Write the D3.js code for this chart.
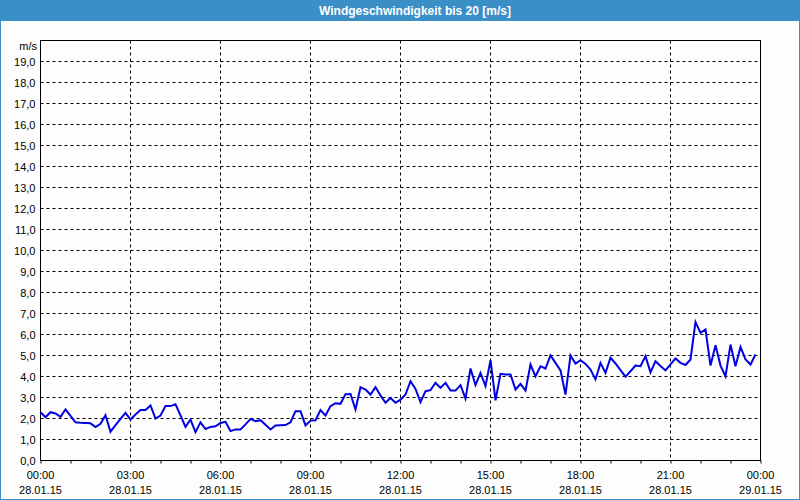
<!DOCTYPE html>
<html>
<head>
<meta charset="utf-8">
<script src="https://cdn.jsdelivr.net/npm/d3@7"></script>
<style>
html,body{margin:0;padding:0;background:#fff;}
svg{display:block;}
text{font-family:"Liberation Sans",Arial,sans-serif;}
</style>
</head>
<body>
<svg id="chart" width="800" height="500"></svg>
<script>
// ---- data ----
const title = "Windgeschwindigkeit bis 20 [m/s]";
const unitLabel = "m/s";
// wind speed, one sample every 10 minutes starting 28.01.15 00:00
const speeds = [
  2.3, 2.06, 2.3, 2.24, 2.08, 2.43, 2.12, 1.82, 1.8, 1.79, 1.77, 1.59,
  1.75, 2.16, 1.37, 1.68, 1.98, 2.27, 1.95, 2.19, 2.4, 2.4, 2.62, 2.0,
  2.14, 2.59, 2.59, 2.68, 2.15, 1.6, 1.95, 1.35, 1.82, 1.5, 1.6, 1.63,
  1.79, 1.84, 1.4, 1.48, 1.48, 1.72, 1.98, 1.87, 1.92, 1.7, 1.48, 1.67,
  1.68, 1.69, 1.82, 2.35, 2.35, 1.67, 1.9, 1.92, 2.4, 2.14, 2.59, 2.73,
  2.7, 3.16, 3.17, 2.43, 3.49, 3.38, 3.14, 3.49, 3.1, 2.75, 2.98, 2.75,
  2.9, 3.14, 3.78, 3.41, 2.78, 3.3, 3.35, 3.7, 3.46, 3.7, 3.33, 3.33,
  3.59, 2.95, 4.38, 3.59, 4.17, 3.54, 4.78, 2.86, 4.13, 4.1, 4.1, 3.38,
  3.65, 3.33, 4.57, 4.01, 4.49, 4.38, 5.0, 4.65, 4.29, 3.14, 5.0, 4.62,
  4.78, 4.6, 4.33, 3.86, 4.65, 4.17, 4.89, 4.62, 4.3, 3.99, 4.25, 4.52,
  4.49, 4.97, 4.2, 4.73, 4.5, 4.29, 4.58, 4.86, 4.65, 4.55, 4.81, 6.59,
  6.08, 6.24, 4.52, 5.49, 4.52, 4.01, 5.52, 4.49, 5.41, 4.81, 4.57, 5.05
];
const sampleStepMinutes = 10;
const yTickValues = [0,1,2,3,4,5,6,7,8,9,10,11,12,13,14,15,16,17,18,19];
const xTickHours = [0,3,6,9,12,15,18,21,24];
const xTimeLabels = ["00:00","03:00","06:00","09:00","12:00","15:00","18:00","21:00","00:00"];
const xDateLabels = ["28.01.15","28.01.15","28.01.15","28.01.15","28.01.15","28.01.15","28.01.15","28.01.15","29.01.15"];

// ---- layout ----
const W = 800, H = 500;
const svg = d3.select("#chart");
const pLeft = 40.5, pRight = 760.5, pTop = 40.5, pBottom = 460.5;

const x = d3.scaleLinear().domain([0, 24]).range([pLeft, pRight]);
const y = d3.scaleLinear().domain([0, 20]).range([pBottom, pTop]);

// background
svg.append("rect").attr("x",0).attr("y",0).attr("width",W).attr("height",H).attr("fill","#fcfdfc");
// outer blue frame
svg.append("rect").attr("x",0.5).attr("y",0.5).attr("width",W-1).attr("height",H-1)
  .attr("fill","none").attr("stroke","#3a8fc7").attr("stroke-width",1);
// title bar
svg.append("rect").attr("x",0).attr("y",0).attr("width",W).attr("height",21).attr("fill","#3a8fc7");
svg.append("text").attr("x",415).attr("y",15).attr("text-anchor","middle")
  .attr("fill","#ffffff").attr("font-weight","bold").attr("font-size","12px").text(title);

// horizontal grid
const gy = svg.append("g").attr("class","grid-y");
gy.selectAll("line").data(yTickValues.filter(v => v > 0)).join("line")
  .attr("x1", pLeft).attr("x2", pRight)
  .attr("y1", d => y(d)).attr("y2", d => y(d))
  .attr("stroke","#000").attr("stroke-width",1).attr("stroke-dasharray","3,3");

// vertical grid
const gx = svg.append("g").attr("class","grid-x");
gx.selectAll("line").data(xTickHours.filter(h => h > 0 && h < 24)).join("line")
  .attr("x1", d => x(d)).attr("x2", d => x(d))
  .attr("y1", pTop).attr("y2", pBottom)
  .attr("stroke","#000").attr("stroke-width",1).attr("stroke-dasharray","3,3");

// hourly minor ticks below x axis
const xAxis = d3.axisBottom(x).tickValues(d3.range(0,25)).tickSize(3).tickFormat("");
const gxa = svg.append("g").attr("transform", `translate(0,${pBottom})`).call(xAxis);
gxa.select(".domain").remove();
gxa.selectAll("line").attr("stroke","#000");

// y labels
const yAxis = d3.axisLeft(y).tickValues(yTickValues).tickSize(0).tickPadding(5)
  .tickFormat(d => d3.format(".1f")(d).replace(".", ","));
const gya = svg.append("g").attr("transform", `translate(${pLeft},0)`).call(yAxis);
gya.select(".domain").remove();
gya.selectAll("text").attr("font-size","11px").attr("fill","#000")
  .attr("font-family","'Liberation Sans',Arial,sans-serif");

svg.append("text").attr("x",37).attr("y",50).attr("text-anchor","end")
  .attr("font-size","11px").attr("fill","#000").text(unitLabel);

// x labels
const xl = svg.append("g").attr("class","x-labels");
xl.selectAll("text.t").data(xTickHours).join("text").attr("class","t")
  .attr("x", d => x(d)).attr("y", 479).attr("text-anchor","middle")
  .attr("font-size","11px").attr("fill","#000").text((d,i) => xTimeLabels[i]);
xl.selectAll("text.d").data(xTickHours).join("text").attr("class","d")
  .attr("x", d => x(d)).attr("y", 494).attr("text-anchor","middle")
  .attr("font-size","11px").attr("fill","#000").text((d,i) => xDateLabels[i]);

// plot frame
svg.append("rect").attr("x",pLeft).attr("y",pTop).attr("width",pRight-pLeft).attr("height",pBottom-pTop)
  .attr("fill","none").attr("stroke","#000").attr("stroke-width",1);

// line
const line = d3.line()
  .x((d,i) => x(i * sampleStepMinutes / 60))
  .y(d => y(d));
svg.append("path").datum(speeds).attr("d", line)
  .attr("fill","none").attr("stroke","#0000e0").attr("stroke-width",2)
  .attr("stroke-linejoin","miter");
</script>
</body>
</html>
